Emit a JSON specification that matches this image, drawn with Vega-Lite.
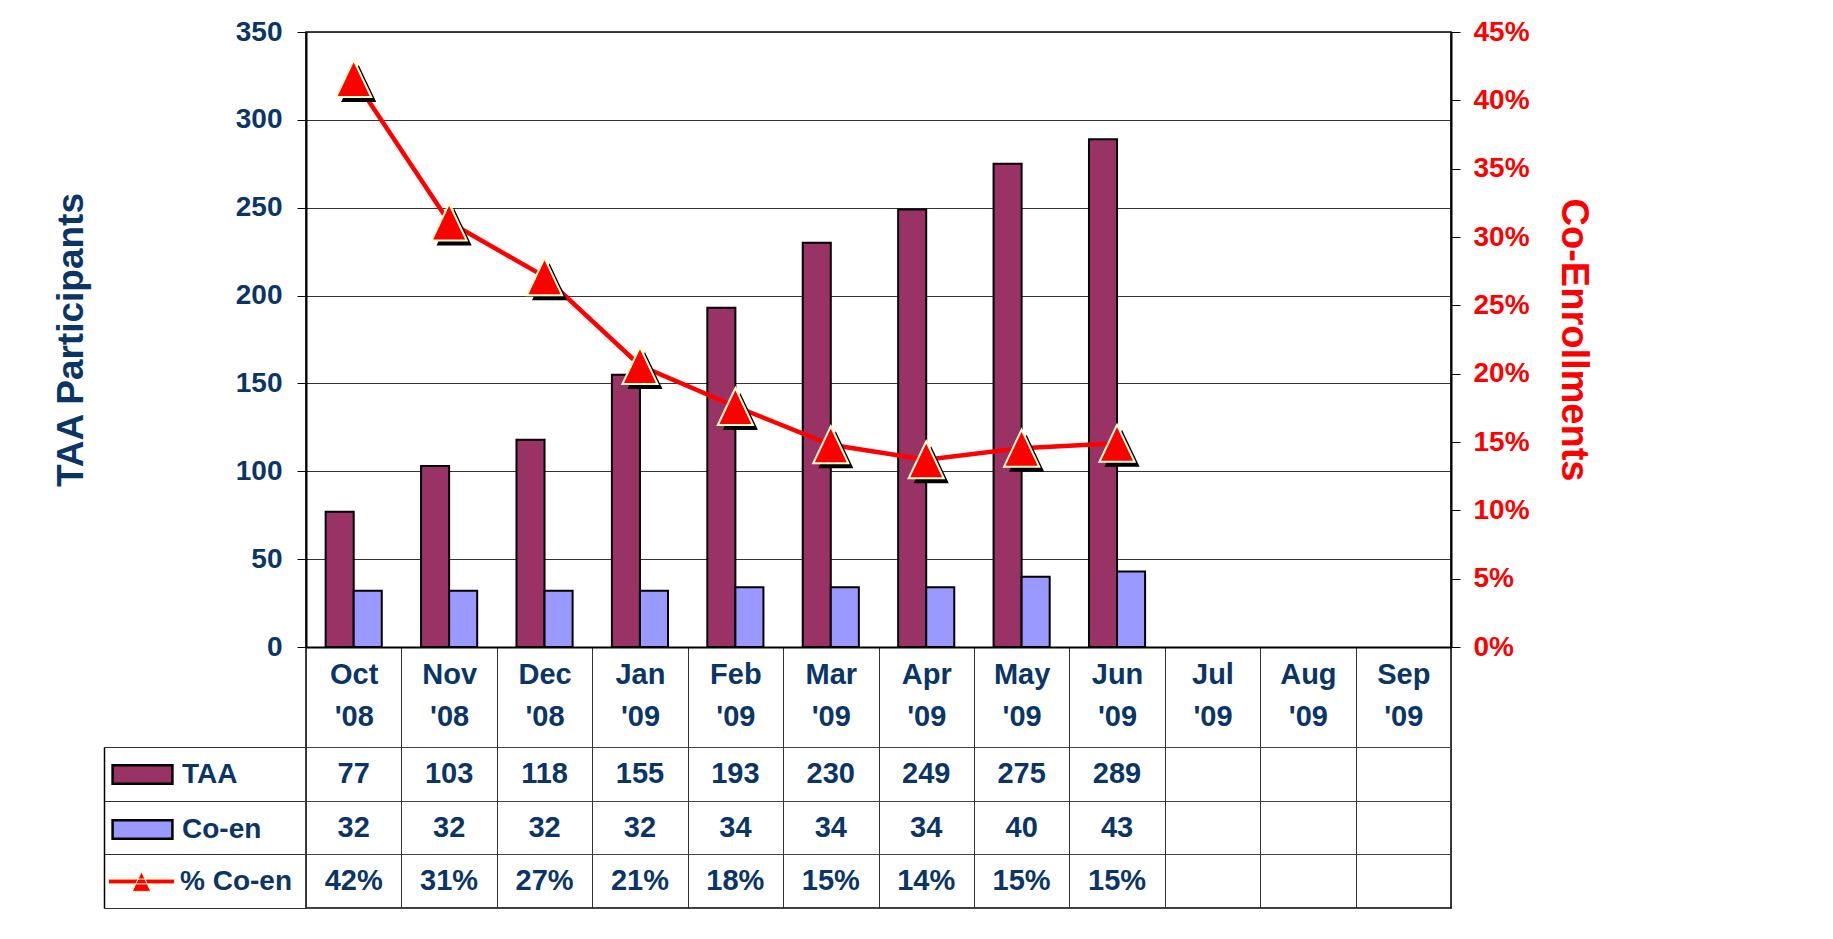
{
  "$schema": "https://vega.github.io/schema/vega-lite/v6.json",
  "width": 1145,
  "height": 876,
  "autosize": {"type": "none"},
  "padding": {"left": 306, "top": 32, "right": 382, "bottom": 31},
  "background": "white",
  "config": {
    "view": {"stroke": "#000000", "strokeWidth": 1.5},
    "font": "Liberation Sans",
    "axis": {"labelFont": "Liberation Sans", "titleFont": "Liberation Sans", "labelFontWeight": "bold", "titleFontWeight": "bold"},
    "legend": {"labelFont": "Liberation Sans"}
  },
  "data": {
    "values": [
      {"month": "Oct '08", "taa": 77, "coen": 32, "pct": 0.416},
      {"month": "Nov '08", "taa": 103, "coen": 32, "pct": 0.311},
      {"month": "Dec '08", "taa": 118, "coen": 32, "pct": 0.271},
      {"month": "Jan '09", "taa": 155, "coen": 32, "pct": 0.206},
      {"month": "Feb '09", "taa": 193, "coen": 34, "pct": 0.176},
      {"month": "Mar '09", "taa": 230, "coen": 34, "pct": 0.148},
      {"month": "Apr '09", "taa": 249, "coen": 34, "pct": 0.137},
      {"month": "May '09", "taa": 275, "coen": 40, "pct": 0.1455},
      {"month": "Jun '09", "taa": 289, "coen": 43, "pct": 0.149}
    ]
  },
  "encoding": {
    "x": {
      "field": "month", "type": "nominal", "sort": null,
      "scale": {"domain": ["Oct '08","Nov '08","Dec '08","Jan '09","Feb '09","Mar '09","Apr '09","May '09","Jun '09","Jul '09","Aug '09","Sep '09"], "paddingInner": 0, "paddingOuter": 0},
      "axis": {
        "orient": "bottom", "offset": -261, "title": null, "tickBand": "extent",
        "tickSize": 261, "tickColor": "#333333", "tickWidth": 1,
        "domainColor": "#000000", "domainWidth": 2,
        "labelPadding": -248, "labelExpr": "split(datum.label, ' ')", "labelAngle": 0,
        "labelFontSize": 29, "labelColor": "#0A3566", "labelLineHeight": 42,
        "labelOverlap": false, "labelBaseline": "top", "labelAlign": "center", "grid": false
      }
    }
  },
  "resolve": {"scale": {"y": "independent"}, "axis": {"y": "independent"}},
  "layer": [
    {
      "transform": [{"fold": ["taa", "coen"], "as": ["series", "count"]}],
      "mark": {"type": "bar", "stroke": "#000000", "strokeWidth": 2},
      "encoding": {
        "xOffset": {"field": "series", "type": "nominal", "sort": null, "scale": {"domain": ["taa", "coen"], "paddingInner": 0, "paddingOuter": 0.7}},
        "y": {
          "field": "count", "type": "quantitative",
          "scale": {"domain": [0, 350], "range": [615, 0], "nice": false},
          "axis": {
            "orient": "left", "values": [0, 50, 100, 150, 200, 250, 300, 350],
            "grid": true, "gridColor": "#333333", "gridWidth": 1,
            "tickSize": 9, "tickColor": "#000000", "domainColor": "#000000", "domainWidth": 2,
            "labelPadding": 15, "labelFontSize": 28, "labelColor": "#0A3566",
            "title": "TAA Participants", "titleFontSize": 37, "titleColor": "#0A3566",
            "titleX": -235, "titleY": 307.5, "titleAngle": 270, "titleBaseline": "middle", "titleAlign": "center"
          }
        },
        "color": {
          "field": "series", "type": "nominal",
          "scale": {"domain": ["taa", "coen"], "range": ["#993366", "#9999FF"]},
          "legend": {
            "orient": "none", "legendX": -187, "legendY": 719, "title": null, "direction": "vertical",
            "symbolType": "M-1.36,-0.42H1.36V0.42H-1.36Z",
            "symbolSize": 1936, "symbolStrokeWidth": 2.5, "symbolStrokeColor": "#000000", "symbolOpacity": 1,
            "rowPadding": 17, "labelOffset": 16, "padding": 0,
            "labelFontSize": 28, "labelFontWeight": "bold", "labelColor": "#0A3566",
            "labelExpr": "datum.value == 'taa' ? 'TAA' : 'Co-en'"
          }
        }
      }
    },
    {
      "encoding": {
        "y": {
          "field": "pct", "type": "quantitative",
          "scale": {"domain": [0, 0.45], "range": [615, 0], "nice": false},
          "axis": {
            "orient": "right", "values": [0, 0.05, 0.1, 0.15, 0.2, 0.25, 0.3, 0.35, 0.4, 0.45], "format": ".0%",
            "grid": false, "tickSize": 9, "tickColor": "#000000", "domainColor": "#000000", "domainWidth": 2,
            "labelPadding": 13, "labelFontSize": 28, "labelColor": "#FF0000",
            "title": "Co-Enrollments", "titleFontSize": 38, "titleColor": "#FF0000",
            "titleX": 121, "titleY": 307.5, "titleAngle": 90, "titleBaseline": "middle", "titleAlign": "center"
          }
        }
      },
      "layer": [
        {"mark": {"type": "line", "color": "#FF0000", "strokeWidth": 4.5}},
        {"mark": {"type": "point", "shape": "M0,-1L0.95,1L-0.95,1Z", "size": 1369, "filled": true, "fill": "#000000", "strokeWidth": 0, "opacity": 1, "xOffset": 5, "yOffset": 5}},
        {
          "mark": {"type": "point", "shape": "M0,-1L0.95,1L-0.95,1Z", "size": 1369, "filled": true, "stroke": "#FFFFCC", "strokeWidth": 2, "opacity": 1},
          "encoding": {
            "fill": {
              "datum": "pct", "type": "nominal",
              "scale": {"domain": ["pct"], "range": ["#FF0000"]},
              "legend": {
                "orient": "none", "legendX": -187, "legendY": 827, "title": null,
                "symbolType": "M-1.5,-0.11H1.5V0.11H-1.5Z M0,-0.45L0.42,0.45L-0.42,0.45Z",
                "symbolSize": 1936, "symbolStrokeWidth": 1, "symbolOpacity": 1,
                "labelOffset": 16, "padding": 0,
                "labelFontSize": 28, "labelFontWeight": "bold", "labelColor": "#0A3566",
                "labelExpr": "'% Co-en'"
              }
            }
          }
        }
      ]
    },
    {
      "encoding": {
        "y": {
          "field": "row", "type": "nominal",
          "scale": {"type": "band", "domain": ["taa", "coen", "pct"], "range": [715, 876], "paddingInner": 0, "paddingOuter": 0},
          "axis": {
            "orient": "left", "offset": 202, "labels": false, "title": null, "tickBand": "extent",
            "tickSize": -202, "tickColor": "#333333", "tickWidth": 1,
            "domainColor": "#000000", "domainWidth": 1.5,
            "grid": true, "gridColor": "#444444", "gridWidth": 1
          }
        }
      },
      "layer": [
        {
          "transform": [{"fold": ["taa", "coen"], "as": ["row", "value"]}],
          "mark": {"type": "text", "font": "Liberation Sans", "fontWeight": "bold", "fontSize": 29, "color": "#0A3566", "baseline": "middle", "align": "center"},
          "encoding": {"text": {"field": "value", "type": "quantitative", "format": "d"}}
        },
        {
          "transform": [{"fold": ["pct"], "as": ["row", "value"]}],
          "mark": {"type": "text", "font": "Liberation Sans", "fontWeight": "bold", "fontSize": 29, "color": "#0A3566", "baseline": "middle", "align": "center"},
          "encoding": {"text": {"field": "value", "type": "quantitative", "format": ".0%"}}
        }
      ]
    }
  ]
}
